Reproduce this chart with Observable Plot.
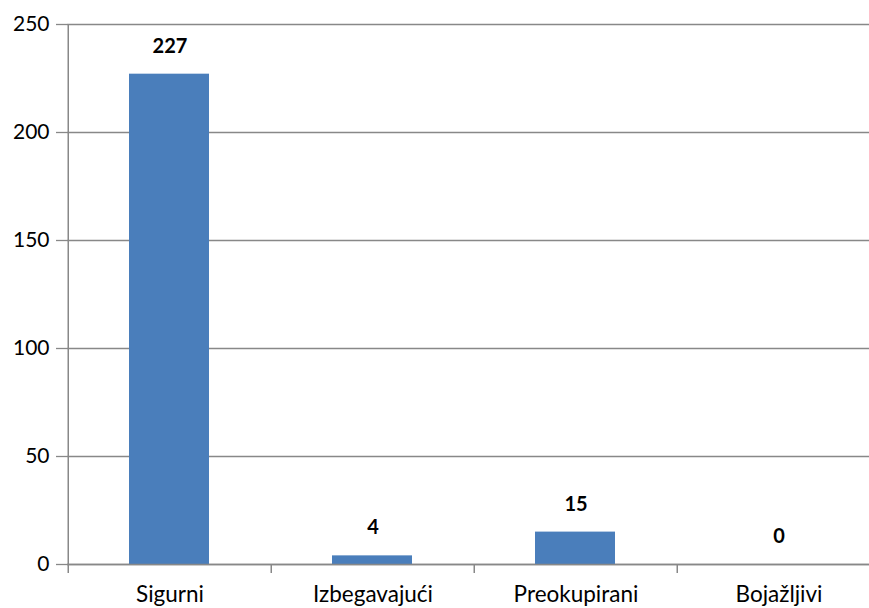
<!DOCTYPE html>
<html>
<head>
<meta charset="utf-8">
<script src="https://cdn.jsdelivr.net/npm/d3@7"></script>
<script src="https://cdn.jsdelivr.net/npm/@observablehq/plot@0.6"></script>
<style>
  html, body { margin: 0; padding: 0; background: #fff; overflow: hidden; }
  #chart { width: 869px; height: 608px; overflow: hidden; }
  #chart svg { max-width: none !important; }
</style>
</head>
<body>
<div id="chart"></div>
<script>
const categories = ["Sigurni", "Izbegavajući", "Preokupirani", "Bojažljivi"];
const values = [227, 4, 15, 0];
const yTicks = [0, 50, 100, 150, 200, 250];

const data = categories.map((c, i) => ({category: c, value: values[i]}));
const W = 881, ML = 67, MR = 0;
const band = (W - ML - MR) / categories.length;
const lastCat = [categories[categories.length - 1]];

const grey = "#888888";
const font = "Lato, 'Open Sans', sans-serif";

const chart = Plot.plot({
  width: W,
  height: 608,
  marginLeft: ML,
  marginRight: MR,
  marginTop: 24,
  marginBottom: 44,
  style: {fontFamily: font, background: "#fff", color: "#000", maxWidth: "none"},
  x: {domain: categories, padding: 0, label: null},
  y: {domain: [0, 250], label: null},
  marks: [
    Plot.gridY(yTicks, {stroke: grey, strokeOpacity: 1, strokeWidth: 1.3}),
    Plot.barY(data, {x: "category", y: "value", fill: "#4a7ebb", insetLeft: 61, insetRight: 62}),
    Plot.ruleY([0], {stroke: grey, strokeWidth: 1.5}),
    Plot.ruleX(categories, {x: d => d, dx: -band / 2, y1: 0, y2: -4.2, stroke: grey, strokeWidth: 1.5}),
    Plot.ruleX(lastCat, {x: d => d, dx: band / 2, y1: 0, y2: -4.2, stroke: grey, strokeWidth: 1.5}),
    Plot.ruleX(categories.slice(0, 1), {x: d => d, dx: -band / 2, y1: 0, y2: 250, stroke: grey, strokeWidth: 1.5}),
    Plot.axisY(yTicks, {tickSize: 11, tickPadding: 7, fontSize: 21, stroke: grey, strokeWidth: 1.3, fill: "#000"}),
    Plot.axisX({tickSize: 0, tickPadding: 22, fontSize: 22.5, fill: "#000"}),
    Plot.text(data, {x: "category", y: "value", text: d => String(d.value), dy: -28, fontSize: 20, fontWeight: "bold", fill: "#000"})
  ]
});
document.getElementById("chart").appendChild(chart);
</script>
</body>
</html>
